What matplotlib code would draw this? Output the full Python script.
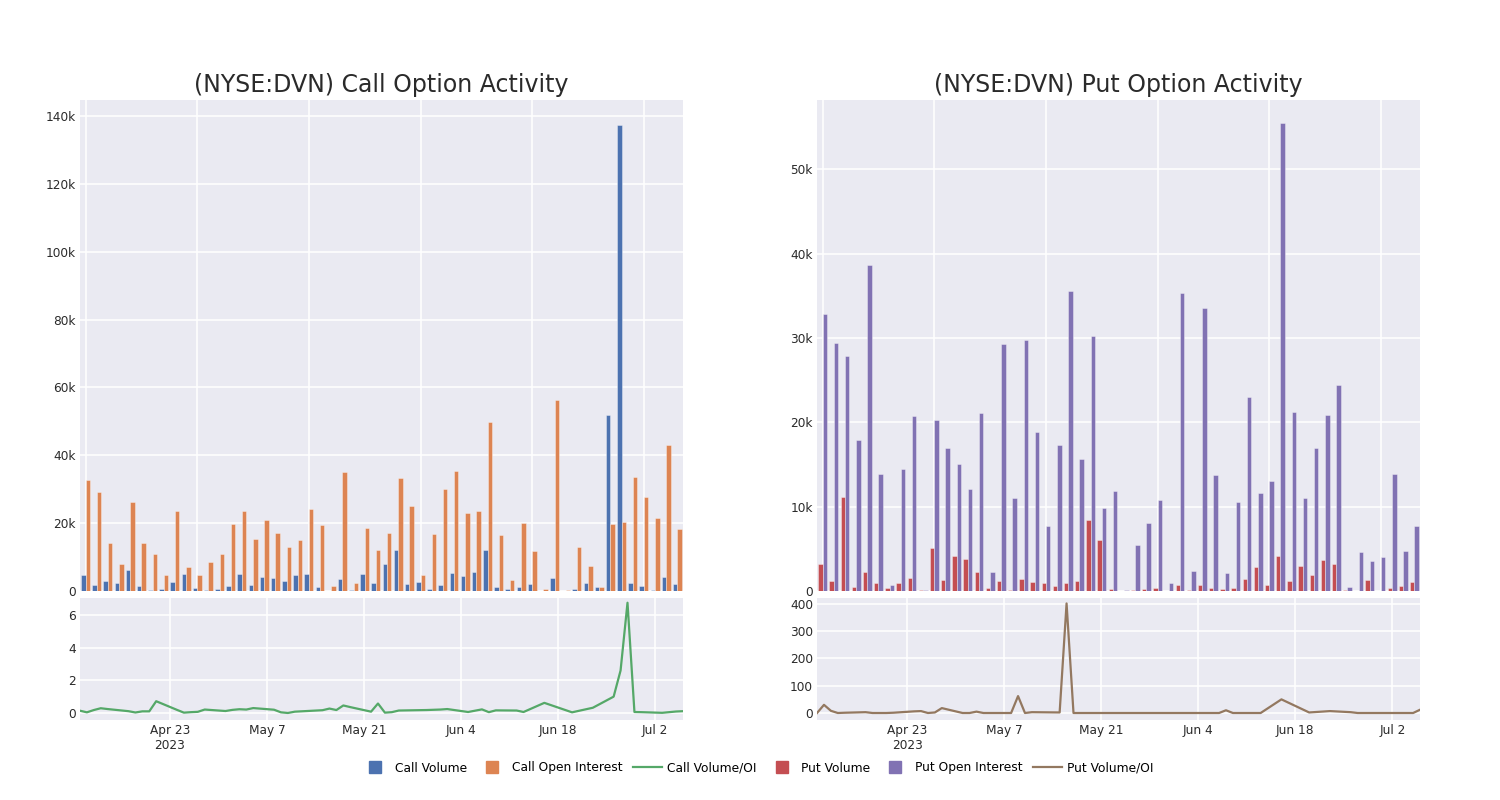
import numpy as np
import pandas as pd
import matplotlib
matplotlib.use("Agg")
import matplotlib.pyplot as plt
import matplotlib.dates as mdates
from matplotlib.lines import Line2D
from matplotlib.ticker import FuncFormatter

# trading days shown in both panels
dates = ["2023-04-10", "2023-04-11", "2023-04-12", "2023-04-13", "2023-04-14",
         "2023-04-17", "2023-04-18", "2023-04-19", "2023-04-20", "2023-04-21",
         "2023-04-24", "2023-04-25", "2023-04-26", "2023-04-27", "2023-04-28",
         "2023-05-01", "2023-05-02", "2023-05-03", "2023-05-04", "2023-05-05",
         "2023-05-08", "2023-05-09", "2023-05-10", "2023-05-11", "2023-05-15",
         "2023-05-16", "2023-05-17", "2023-05-18", "2023-05-19", "2023-05-22",
         "2023-05-23", "2023-05-24", "2023-05-25", "2023-05-26", "2023-05-30",
         "2023-06-01", "2023-06-02", "2023-06-05", "2023-06-07", "2023-06-08",
         "2023-06-09", "2023-06-12", "2023-06-13", "2023-06-16", "2023-06-20",
         "2023-06-23", "2023-06-26", "2023-06-27", "2023-06-28", "2023-06-29",
         "2023-06-30", "2023-07-03", "2023-07-05", "2023-07-06"]

# values in thousands of contracts
call_volume = [4.6, 1.9, 2.8, 2.4, 6.2, 1.5, 0.4, 0.5, 2.6, 5.1,
               0.9, 0.2, 0.6, 1.5, 5.0, 1.9, 4.0, 3.9, 2.9, 4.7,
               5.1, 1.1, 0.05, 3.6, 0.4, 5.0, 2.4, 7.9, 12.0, 2.1,
               2.6, 0.5, 1.7, 5.4, 4.4, 5.5, 12.2, 1.1, 0.7, 1.1,
               2.0, 0.1, 3.7, 0.1, 0.5, 2.5, 1.3, 51.8, 137.3, 2.3,
               1.6, 0.2, 4.2, 2.2]
call_oi = [32.8, 29.1, 14.0, 7.9, 26.1, 14.0, 10.8, 4.6, 23.5, 7.1,
           4.7, 8.5, 10.8, 19.8, 23.5, 15.4, 20.8, 17.1, 12.9, 15.0,
           24.3, 19.5, 1.4, 35.2, 2.5, 18.6, 12.0, 17.1, 33.3, 25.0,
           4.6, 16.9, 30.0, 35.4, 22.9, 23.7, 49.7, 16.4, 3.2, 20.0,
           11.7, 0.7, 56.2, 0.2, 12.9, 7.5, 1.3, 19.7, 20.4, 33.6,
           27.8, 21.6, 43.1, 18.3]
call_ratio = [0.14, 0.04, 0.18, 0.29, 0.24, 0.11, 0.03, 0.10, 0.10, 0.72,
              0.19, 0.02, 0.05, 0.07, 0.21, 0.12, 0.19, 0.23, 0.21, 0.30,
              0.20, 0.04, 0.0, 0.08, 0.17, 0.27, 0.18, 0.46, 0.36, 0.08,
              0.58, 0.02, 0.05, 0.15, 0.18, 0.21, 0.24, 0.06, 0.22, 0.05,
              0.16, 0.15, 0.06, 0.62, 0.04, 0.32, 1.0, 2.6, 6.75, 0.06,
              0.05, 0.01, 0.09, 0.11]

put_volume = [3.2, 1.2, 11.2, 0.5, 2.3, 0.9, 0.3, 0.9, 1.5, 0.15,
              5.1, 1.3, 4.2, 3.8, 2.3, 0.3, 1.2, 0.15, 1.4, 1.1,
              0.9, 0.6, 0.9, 1.2, 8.4, 6.0, 0.2, 0.02, 0.1, 0.2,
              0.4, 0.02, 0.7, 0.1, 0.7, 0.4, 0.25, 0.3, 1.4, 2.8,
              0.75, 4.1, 1.15, 3.0, 1.9, 3.7, 3.25, 0.08, 0.04, 1.3,
              0.02, 0.3, 0.6, 1.1]
put_oi = [32.8, 29.4, 27.9, 17.9, 38.7, 13.9, 0.7, 14.5, 20.7, 0.08,
          20.3, 17.0, 15.0, 12.1, 21.1, 2.2, 29.3, 11.0, 29.8, 18.8,
          7.7, 17.3, 35.6, 15.7, 30.2, 9.8, 11.8, 0.1, 5.4, 8.1,
          10.8, 0.95, 35.3, 2.4, 33.5, 13.7, 2.1, 10.6, 23.0, 11.6,
          13.0, 55.5, 21.2, 11.0, 16.9, 20.9, 24.4, 0.5, 4.6, 3.5,
          4.0, 13.9, 4.8, 7.7]
put_ratio = [0, 30, 8, 0, 1, 3, 0, 0, 0, 1,
             6, 7, 0, 2, 18, 0, 0, 5, 0, 0,
             0, 62, 0, 3, 2, 402, 0, 0, 0, 0,
             0, 0, 0, 0, 0, 0, 0, 0, 0, 10,
             0, 0, 0, 50, 2, 7, 3, 0, 0, 0,
             0, 0, 0, 12]

date_ticks = ["2023-04-23", "2023-05-07", "2023-05-21",
              "2023-06-04", "2023-06-18", "2023-07-02"]

BG = "#EAEAF2"
C_BLUE, C_ORANGE, C_GREEN = "#4C72B0", "#DD8452", "#55A868"
C_RED, C_PURPLE, C_BROWN = "#C44E52", "#8172B3", "#937860"

plt.rcParams["font.family"] = ["DejaVu Sans"]

d = pd.to_datetime(dates)
idx = np.arange(len(dates))

fig = plt.figure(figsize=(15, 8), dpi=100)


def kfmt(v, pos):
    return "0" if v == 0 else f"{int(round(v / 1000))}k"


def datefmt(v, pos):
    t = mdates.num2date(v)
    s = t.strftime("%b ") + str(t.day)
    if pos == 0:
        s += "\n2023"
    return s


def style(ax):
    ax.set_facecolor(BG)
    for s in ax.spines.values():
        s.set_visible(False)
    ax.grid(True, color="white", linewidth=1.1)
    ax.set_axisbelow(True)
    ax.tick_params(length=0, labelsize=8.7, colors="#2a2a2a", pad=3)


def panel(left, title, vol, oi, ratio, c1, c2, c3, ymax, rlim, rticks):
    ax = fig.add_axes([left, 0.26125, 0.402, 0.61375])
    style(ax)
    ax.bar(idx - 0.2, np.array(vol) * 1000, width=0.4, color=c1,
           edgecolor=(1, 1, 1, 0.5), linewidth=0.5)
    ax.bar(idx + 0.2, np.array(oi) * 1000, width=0.4, color=c2,
           edgecolor=(1, 1, 1, 0.5), linewidth=0.5)
    ax.set_xlim(-0.5, len(idx) - 0.5)
    ax.set_ylim(0, ymax)
    ax.set_xticks(np.arange(0, len(idx), 10))
    ax.set_xticklabels([])
    ax.yaxis.set_major_formatter(FuncFormatter(kfmt))
    ax.set_title(title, fontsize=17, color="#2a2a2a", pad=6)

    ax2 = fig.add_axes([left, 0.1, 0.402, 0.1525])
    style(ax2)
    ax2.plot(d, ratio, color=c3, linewidth=1.6)
    ax2.set_xlim(d[0], d[-1])
    ax2.set_ylim(*rlim)
    ax2.set_yticks(rticks)
    ax2.set_xticks(pd.to_datetime(date_ticks))
    ax2.xaxis.set_major_formatter(FuncFormatter(datefmt))
    return ax, ax2


panel(0.0533, "(NYSE:DVN) Call Option Activity", call_volume, call_oi,
      call_ratio, C_BLUE, C_ORANGE, C_GREEN, 144700, (-0.43, 7.04), [0, 2, 4, 6])
panel(0.5447, "(NYSE:DVN) Put Option Activity", put_volume, put_oi,
      put_ratio, C_RED, C_PURPLE, C_BROWN, 58200, (-25.7, 422),
      [0, 100, 200, 300, 400])

sq = dict(marker="s", linestyle="none", markersize=9)
handles = [
    Line2D([], [], color=C_BLUE, **sq),
    Line2D([], [], color=C_ORANGE, **sq),
    Line2D([], [], color=C_GREEN, linewidth=1.6),
    Line2D([], [], color=C_RED, **sq),
    Line2D([], [], color=C_PURPLE, **sq),
    Line2D([], [], color=C_BROWN, linewidth=1.6),
]
labels = ["Call Volume", "Call Open Interest", "Call Volume/OI",
          "Put Volume", "Put Open Interest", "Put Volume/OI"]
fig.legend(handles, labels, loc="center", bbox_to_anchor=(0.505, 0.04),
           ncol=6, frameon=False, fontsize=8.8, handlelength=2.3,
           columnspacing=0.9, handletextpad=0.45)

fig.savefig("out.png", dpi=100, facecolor="white")
